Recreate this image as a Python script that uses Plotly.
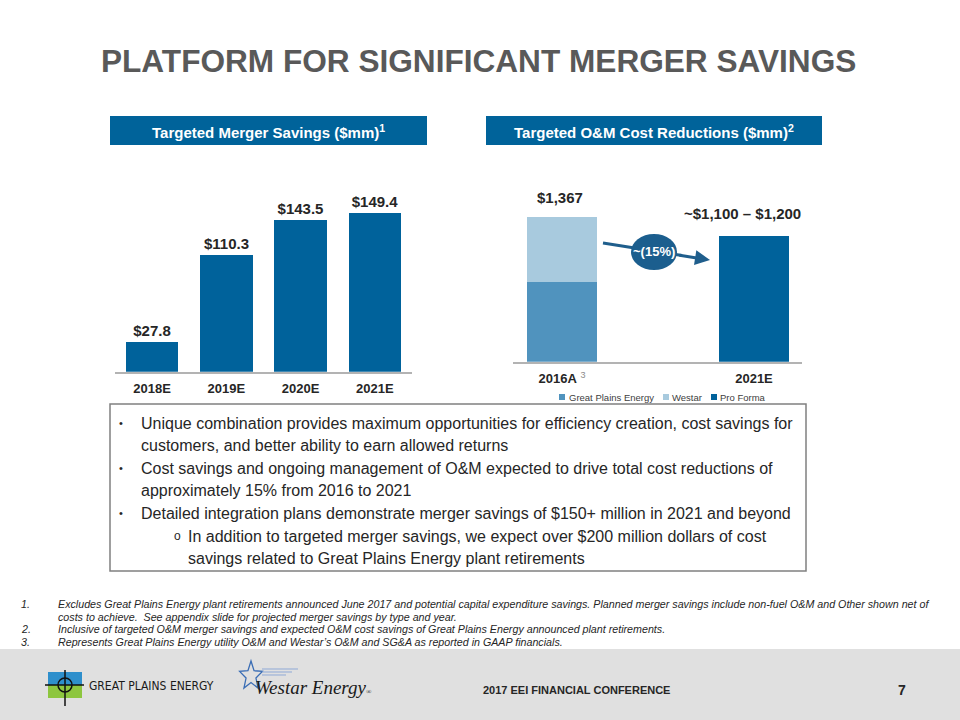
import math
import plotly.graph_objects as go

W, H = 960, 720


def px(x):
    return x / W


def py(y):
    return 1 - y / H


FONT = "Liberation Sans, Arial, sans-serif"

# ---------------- data ----------------
merger_years = ["2018E", "2019E", "2020E", "2021E"]
merger_savings = [27.8, 110.3, 143.5, 149.4]
merger_labels = ["$27.8", "$110.3", "$143.5", "$149.4"]

om_years = ["2016A", "2021E"]
om_tick_text = ["2016A<span style=\"font-weight:normal;fill:#8c8c8c\"> <sup>3</sup></span>", "2021E"]
gpe_om = [754, None]
westar_om = [613, None]
pro_forma_om = [None, 1190]
om_label_values = [1367, 1190]
om_value_labels = ["$1,367", "~$1,100 – $1,200"]
series_names = ["Great Plains Energy", "Westar", "Pro Forma"]
reduction_label = "~(15%)"

title_text = "PLATFORM FOR SIGNIFICANT MERGER SAVINGS"
left_header = "Targeted Merger Savings ($mm)<sup>1</sup>"
right_header = "Targeted O&M Cost Reductions ($mm)<sup>2</sup>"

bullet_lines = [
    (1, True, "Unique combination provides maximum opportunities for efficiency creation, cost savings for"),
    (1, False, "customers, and better ability to earn allowed returns"),
    (1, True, "Cost savings and ongoing management of O&M expected to drive total cost reductions of"),
    (1, False, "approximately 15% from 2016 to 2021"),
    (1, True, "Detailed integration plans demonstrate merger savings of $150+ million in 2021 and beyond"),
    (2, True, "In addition to targeted merger savings, we expect over $200 million dollars of cost"),
    (2, False, "savings related to Great Plains Energy plant retirements"),
]

footnotes = [
    ("1.", "Excludes Great Plains Energy plant retirements announced June 2017 and potential capital expenditure savings. Planned merger savings include non-fuel O&M and Other shown net of"),
    ("", "costs to achieve.\u00a0 See appendix slide for projected merger savings by type and year."),
    ("2.", "Inclusive of targeted O&M merger savings and expected O&M cost savings of Great Plains Energy announced plant retirements."),
    ("3.", "Represents Great Plains Energy utility O&M and Westar\u2019s O&M and SG&A as reported in GAAP financials."),
]

# ---------------- colours ----------------
DARK_BLUE = "#00629B"
GPE_BLUE = "#5093BE"
WESTAR_BLUE = "#A8CADE"
HEADER_BLUE = "#00639A"
TEXT = "#262626"

fig = go.Figure()

# left chart
fig.add_trace(go.Bar(
    x=merger_years, y=merger_savings, text=merger_labels, textposition="outside",
    textfont=dict(family=FONT, size=15, color=TEXT, weight="bold"),
    marker=dict(color=DARK_BLUE, line=dict(width=0)), width=0.71,
    cliponaxis=False, constraintext="none", showlegend=False, hoverinfo="skip",
    xaxis="x", yaxis="y",
))

# right chart (stacked)
om_colors = [GPE_BLUE, WESTAR_BLUE, DARK_BLUE]
for name, vals, col in zip(series_names, [gpe_om, westar_om, pro_forma_om], om_colors):
    fig.add_trace(go.Bar(
        x=om_years, y=vals, name=name, marker=dict(color=col, line=dict(width=0)),
        width=0.365, showlegend=False, hoverinfo="skip", xaxis="x2", yaxis="y2",
    ))

annotations = []
shapes = []

# value labels on the right chart
for cat, val, lab, xs, ys in zip(om_years, om_label_values, om_value_labels, [-2, -11], [19, 22]):
    annotations.append(dict(
        x=cat, y=val, xref="x2", yref="y2", text=lab, showarrow=False,
        xshift=xs, yshift=ys, xanchor="center", yanchor="middle",
        font=dict(family=FONT, size=15, color=TEXT, weight="bold"),
    ))

# title
annotations.append(dict(
    x=px(99), y=py(61), xref="paper", yref="paper", xanchor="left", yanchor="middle",
    text=title_text, showarrow=False,
    font=dict(family=FONT, size=31.6, color="#595959", weight="bold"),
))

# header boxes
for (x0, x1), txt in [((110, 427), left_header), ((486, 822), right_header)]:
    shapes.append(dict(type="rect", xref="paper", yref="paper", x0=px(x0), x1=px(x1),
                       y0=py(145), y1=py(116), fillcolor=HEADER_BLUE, line=dict(width=0)))
    annotations.append(dict(
        x=px((x0 + x1) / 2), y=py(131), xref="paper", yref="paper", text=txt, showarrow=False,
        xanchor="center", yanchor="middle",
        font=dict(family=FONT, size=15, color="white", weight="bold"),
    ))

# manual legend
legend_pos = [(559, 567), (663, 670), (711, 718)]
for (sx, tx), name, col in zip(legend_pos, series_names, om_colors):
    shapes.append(dict(type="rect", xref="paper", yref="paper", x0=px(sx), x1=px(sx + 6),
                       y0=py(400), y1=py(394), fillcolor=col, line=dict(width=0)))
    annotations.append(dict(
        x=px(tx), y=py(397), xref="paper", yref="paper", text=name, showarrow=False,
        xanchor="left", yanchor="middle", font=dict(family=FONT, size=9.5, color="#404040"),
    ))

# arrow with ellipse
ARROW = "#1F5E8C"
shapes.append(dict(type="line", xref="paper", yref="paper", x0=px(603), y0=py(243),
                   x1=px(682), y1=py(255.5), line=dict(color=ARROW, width=3)))
shapes.append(dict(type="circle", xref="paper", yref="paper", x0=px(631), x1=px(677),
                   y0=py(270), y1=py(234), fillcolor="#1B5E8E", line=dict(width=0)))
annotations.append(dict(
    x=px(710), y=py(260), xref="paper", yref="paper", text="", showarrow=True,
    ax=-32, ay=-5, arrowhead=2, arrowsize=1, arrowwidth=3, arrowcolor=ARROW,
))
annotations.append(dict(
    x=px(654), y=py(252), xref="paper", yref="paper", text=reduction_label, showarrow=False,
    xanchor="center", yanchor="middle",
    font=dict(family=FONT, size=13, color="white", weight="bold"),
))

# bullet box
shapes.append(dict(type="rect", xref="paper", yref="paper", x0=px(110), x1=px(806),
                   y0=py(571), y1=py(404), line=dict(color="#808080", width=1.5)))
line_y = 423
for level, has_bullet, txt in bullet_lines:
    bx, tx = (117, 139) if level == 1 else (172, 186)
    if has_bullet:
        annotations.append(dict(
            x=px(bx), y=py(line_y), xref="paper", yref="paper",
            text="•" if level == 1 else "o", showarrow=False, xanchor="left", yanchor="middle",
            font=dict(family=FONT, size=11 if level == 1 else 12, color=TEXT),
        ))
    annotations.append(dict(
        x=px(tx), y=py(line_y), xref="paper", yref="paper", text=txt, showarrow=False,
        xanchor="left", yanchor="middle", font=dict(family=FONT, size=16, color=TEXT),
    ))
    line_y += 22.6

# footnotes
fy = 604
for num, txt in footnotes:
    if num:
        annotations.append(dict(
            x=px(19), y=py(fy), xref="paper", yref="paper", text=num, showarrow=False,
            xanchor="left", yanchor="middle", font=dict(family=FONT, size=10.7, color=TEXT, style="italic"),
        ))
    annotations.append(dict(
        x=px(56), y=py(fy), xref="paper", yref="paper", text=txt, showarrow=False,
        xanchor="left", yanchor="middle", font=dict(family=FONT, size=10.7, color=TEXT, style="italic"),
    ))
    fy += 12.7

# footer band
shapes.append(dict(type="rect", xref="paper", yref="paper", x0=0, x1=1, y0=0, y1=py(649),
                   fillcolor="#E0E0E0", line=dict(width=0), layer="below"))
annotations.append(dict(
    x=px(576), y=py(690), xref="paper", yref="paper", text="2017 EEI FINANCIAL CONFERENCE",
    showarrow=False, xanchor="center", yanchor="middle",
    font=dict(family=FONT, size=11, color=TEXT, weight="bold"),
))
annotations.append(dict(
    x=px(902), y=py(690), xref="paper", yref="paper", text="7",
    showarrow=False, xanchor="center", yanchor="middle",
    font=dict(family=FONT, size=14, color=TEXT, weight="bold"),
))

# Great Plains Energy logo (approximation)
shapes += [
    dict(type="rect", xref="paper", yref="paper", x0=px(48), x1=px(82), y0=py(685), y1=py(672),
         fillcolor="#2E8FCC", line=dict(width=0)),
    dict(type="rect", xref="paper", yref="paper", x0=px(48), x1=px(82), y0=py(698), y1=py(685),
         fillcolor="#8DC63F", line=dict(width=0)),
    dict(type="line", xref="paper", yref="paper", x0=px(45), x1=px(84), y0=py(685), y1=py(685),
         line=dict(color="#111111", width=1.5)),
    dict(type="line", xref="paper", yref="paper", x0=px(65), x1=px(65), y0=py(670), y1=py(706),
         line=dict(color="#111111", width=1.5)),
    dict(type="circle", xref="paper", yref="paper", x0=px(58), x1=px(72), y0=py(692), y1=py(678),
         line=dict(color="#111111", width=1.5)),
]
annotations.append(dict(
    x=px(87), y=py(686), xref="paper", yref="paper", text="GREAT PLAINS ENERGY", showarrow=False,
    xanchor="left", yanchor="middle",
    font=dict(family="Liberation Sans Narrow, DejaVu Sans Condensed, Arial Narrow, sans-serif",
              size=12, color="#1a1a1a"),
))

# Westar logo (approximation)
cx, cy, r_out, r_in = 251, 676, 15, 6.5
pts = []
for i in range(10):
    ang = -math.pi / 2 + i * math.pi / 5
    r = r_out if i % 2 == 0 else r_in
    pts.append((cx + r * math.cos(ang) * 0.8, cy + r * math.sin(ang)))
path = "M " + " L ".join(f"{px(x):.5f},{py(y):.5f}" for x, y in pts) + " Z"
shapes.append(dict(type="path", xref="paper", yref="paper", path=path,
                   line=dict(color="#3A6DB5", width=1.3)))
for i, yy in enumerate([669, 672, 675]):
    shapes.append(dict(type="line", xref="paper", yref="paper", x0=px(262), x1=px(298 - i * 6),
                       y0=py(yy), y1=py(yy), line=dict(color="#8FA9D6", width=1)))
annotations.append(dict(
    x=px(253), y=py(687), xref="paper", yref="paper",
    text="Westar Energy<span style=\"font-size:7px\">®</span>", showarrow=False,
    xanchor="left", yanchor="middle",
    font=dict(family="Liberation Serif, Times New Roman, serif", size=19, color="#1a1a1a", style="italic"),
))

fig.update_layout(
    width=W, height=H, margin=dict(l=0, r=0, t=0, b=0),
    paper_bgcolor="white", plot_bgcolor="rgba(0,0,0,0)",
    barmode="stack", bargap=0, showlegend=False,
    font=dict(family=FONT, color=TEXT),
    xaxis=dict(domain=[px(115), px(412)], type="category", categoryorder="array",
               categoryarray=merger_years, range=[-0.5, 3.5], showline=True, linecolor="#B3B3B3",
               linewidth=1.5, ticks="", showgrid=False, zeroline=False, ticklabelstandoff=4,
               tickfont=dict(family=FONT, size=13, color=TEXT, weight="bold"), fixedrange=True,
               anchor="y"),
    yaxis=dict(domain=[py(371.7), py(201.8)], range=[0, 160], visible=False, anchor="x"),
    xaxis2=dict(domain=[px(513), px(802)], type="category", categoryorder="array",
                categoryarray=om_years, tickvals=om_years, ticktext=om_tick_text,
                range=[-0.255, 1.25], showline=True, linecolor="#B3B3B3",
                linewidth=1.5, ticks="", showgrid=False, zeroline=False, ticklabelstandoff=4,
                tickfont=dict(family=FONT, size=13, color=TEXT, weight="bold"), anchor="y2"),
    yaxis2=dict(domain=[py(361.7), py(202.5)], range=[0, 1500], visible=False, anchor="x2"),
    annotations=annotations, shapes=shapes,
)

fig.write_html(
    "out.html",
    config={"displayModeBar": False},
    post_script="document.body.style.margin='0px';document.body.style.overflow='hidden';",
)
